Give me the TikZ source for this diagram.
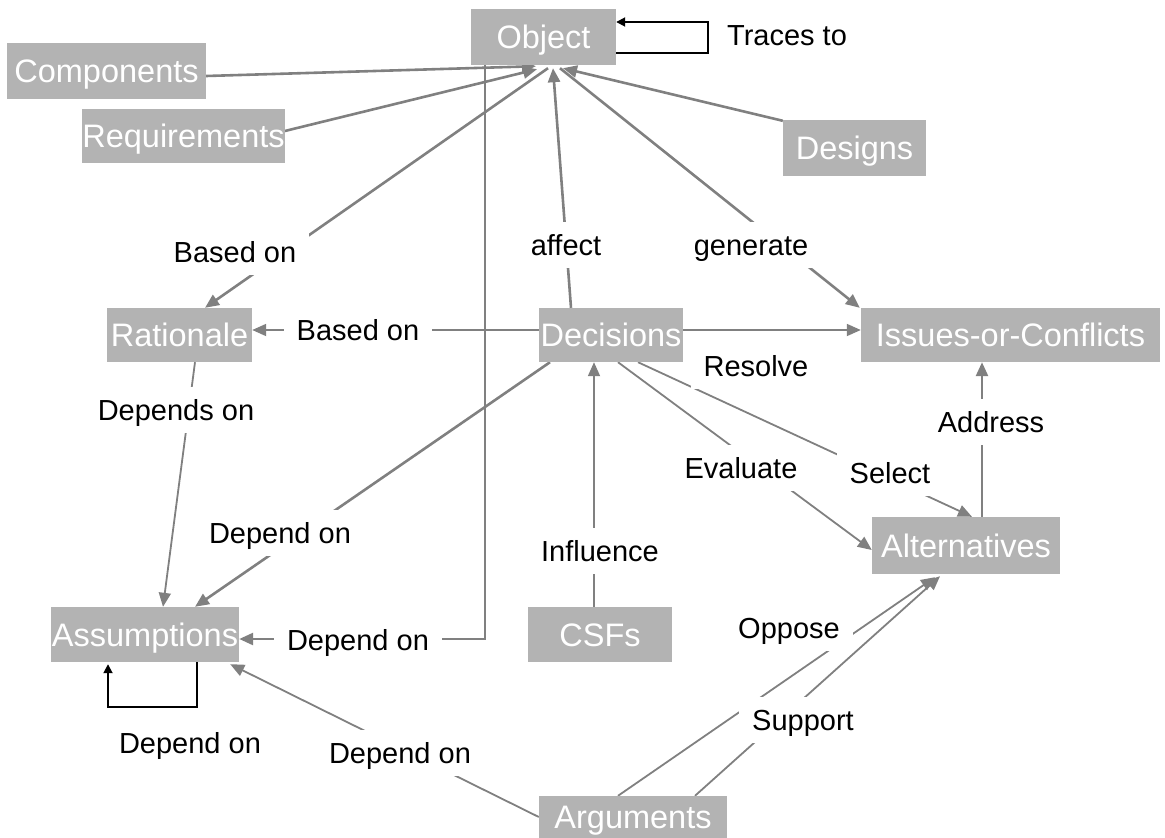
\documentclass[tikz,border=0pt]{standalone}
\usepackage{fontspec}
\setmainfont{Liberation Sans}
\usetikzlibrary{arrows.meta,calc,backgrounds}

\definecolor{boxgray}{RGB}{179,179,179}
\definecolor{linegray}{RGB}{128,128,128}

\tikzset{
  concept/.style={rectangle, fill=boxgray, text=white, inner sep=0pt,
    font=\fontsize{32.5}{36}\selectfont, text height=23.3pt, text depth=0pt},
  linkword/.style={rectangle, fill=white, text=black, inner xsep=13pt, inner ysep=13pt,
    font=\fontsize{29}{33}\selectfont, text height=20.8pt, text depth=0pt},
  conn/.style={draw=linegray, line width=2.6pt, -{Triangle[length=14pt,width=12pt]}, color=linegray},
  plain/.style={draw=linegray, line width=2.6pt},
  thinconn/.style={draw=linegray, line width=1.8pt, -{Triangle[length=14pt,width=12pt]}, color=linegray},
  thinplain/.style={draw=linegray, line width=1.8pt},
  selfloop/.style={draw=black, line width=1.8pt, -{Triangle[length=9pt,width=9pt]}},
}

\begin{document}
\begin{tikzpicture}[x=1pt,y=-1pt]
\useasboundingbox (0,0) rectangle (1165,838);

% concepts
\node[concept, minimum width=145pt, minimum height=56pt] (object) at (543.5,37) {Object};
\node[concept, minimum width=199pt, minimum height=56pt] (components) at (106.5,71) {Components};
\node[concept, minimum width=199pt, minimum height=54pt] (requirements) at (183.5,136) {Requirements};
\node[concept, minimum width=143pt, minimum height=56pt] (designs) at (854.5,148) {Designs};
\node[concept, minimum width=145pt, minimum height=54pt] (rationale) at (179.5,335) {Rationale};
\node[concept, minimum width=144pt, minimum height=54pt] (decisions) at (611,335) {Decisions};
\node[concept, minimum width=299pt, minimum height=54pt] (issues) at (1010.5,335) {Issues-or-Conflicts};
\node[concept, minimum width=188pt, minimum height=57pt] (alternatives) at (966,545.5) {Alternatives};
\node[concept, minimum width=188pt, minimum height=55pt] (assumptions) at (145,634.5) {Assumptions};
\node[concept, minimum width=144pt, minimum height=55pt] (csfs) at (600,634.5) {CSFs};
\node[concept, minimum width=188pt, minimum height=42pt] (arguments) at (633,817) {Arguments};

% linking phrases
\node[linkword] (tracesto) at (787,35) {Traces to};
\node[linkword] (basedonA) at (235,252) {Based on};
\node[linkword] (affect) at (566,245) {affect};
\node[linkword] (generate) at (751,245) {generate};
\node[linkword] (basedonB) at (358,330) {Based on};
\node[linkword] (resolve) at (756,366) {Resolve};
\node[linkword] (dependson) at (176,410) {Depends on};
\node[linkword] (dependonA) at (280,533) {Depend on};
\node[linkword] (influence) at (600,551) {Influence};
\node[linkword] (evaluate) at (741,468) {Evaluate};
\node[linkword] (select) at (890,473) {Select};
\node[linkword] (address) at (991,422) {Address};
\node[linkword] (dependonB) at (358,640) {Depend on};
\node[linkword] (dependonC) at (190,743) {Depend on};
\node[linkword] (dependonD) at (400,753) {Depend on};
\node[linkword] (oppose) at (789,628) {Oppose};
\node[linkword] (support) at (803,720) {Support};

% connectors run underneath the linking phrases
\begin{scope}[on background layer]
  % into Object
  \draw[conn] ($(components.east)+(0,5)$) -- ($(object.south)+(-7.5,1)$);
  \draw[conn] ($(requirements.east)+(0,-5)$) -- ($(object.south)+(-6.5,4)$);
  \draw[conn] ($(designs.north west)+(0,1)$) -- ($(object.south)+(19.5,3)$);
  \draw[conn] ($(decisions.north)+(-40,0)$) -- ($(object.south)+(9.5,3)$);
  % out of Object
  \draw[conn] ($(object.south)+(16.5,3)$) -- ($(issues.north west)+(-1,0)$);
  \draw[conn] ($(object.south)+(4.5,3)$) -- ($(rationale.north)+(25.5,0)$);
  \draw[conn] ($(object.south)+(-58.5,0)$) |- ($(assumptions.east)+(0,4.5)$);
  % Traces to
  \draw[selfloop] ($(object.east)+(0,16)$) -| ($(object.east)+(92,-15)$) -- ($(object.east)+(0,-15)$);
  % Decisions
  \draw[thinconn] ($(decisions.west)+(0,-5)$) -- ($(rationale.east)+(0,-5)$);
  \draw[thinconn] ($(decisions.east)+(0,-5)$) -- ($(issues.west)+(0,-5)$);
  \draw[conn] ($(decisions.south)+(-61,0)$) -- ($(assumptions.north)+(50,0)$);
  \draw[thinconn] ($(decisions.south)+(7,0)$) -- ($(alternatives.west)+(0,4.5)$);
  \draw[thinconn] ($(decisions.south)+(27,0)$) -- ($(alternatives.north)+(6,0)$);
  \draw[thinconn] ($(csfs.north)+(-6,0)$) -- ($(decisions.south)+(-17,0)$);
  % Rationale
  \draw[thinconn] ($(rationale.south)+(15.5,0)$) -- ($(assumptions.north)+(18,0)$);
  % Alternatives
  \draw[conn] ($(alternatives.north)+(16,0)$) -- ($(issues.south)+(-28.5,0)$);
  % Arguments
  \draw[thinconn] (arguments.west) -- ($(assumptions.south east)+(-9,2)$);
  \draw[thinconn] ($(arguments.north)+(-15,0)$) -- ($(alternatives.south)+(-31,3)$);
  \draw[thinconn] ($(arguments.north)+(62,0)$) -- ($(alternatives.south)+(-26,2)$);
  % Assumptions depend on Assumptions
  \draw[selfloop] ($(assumptions.south)+(52,0)$) -- ++(0,45) -| ($(assumptions.south)+(-37,2)$);
\end{scope}
\end{tikzpicture}
\end{document}
